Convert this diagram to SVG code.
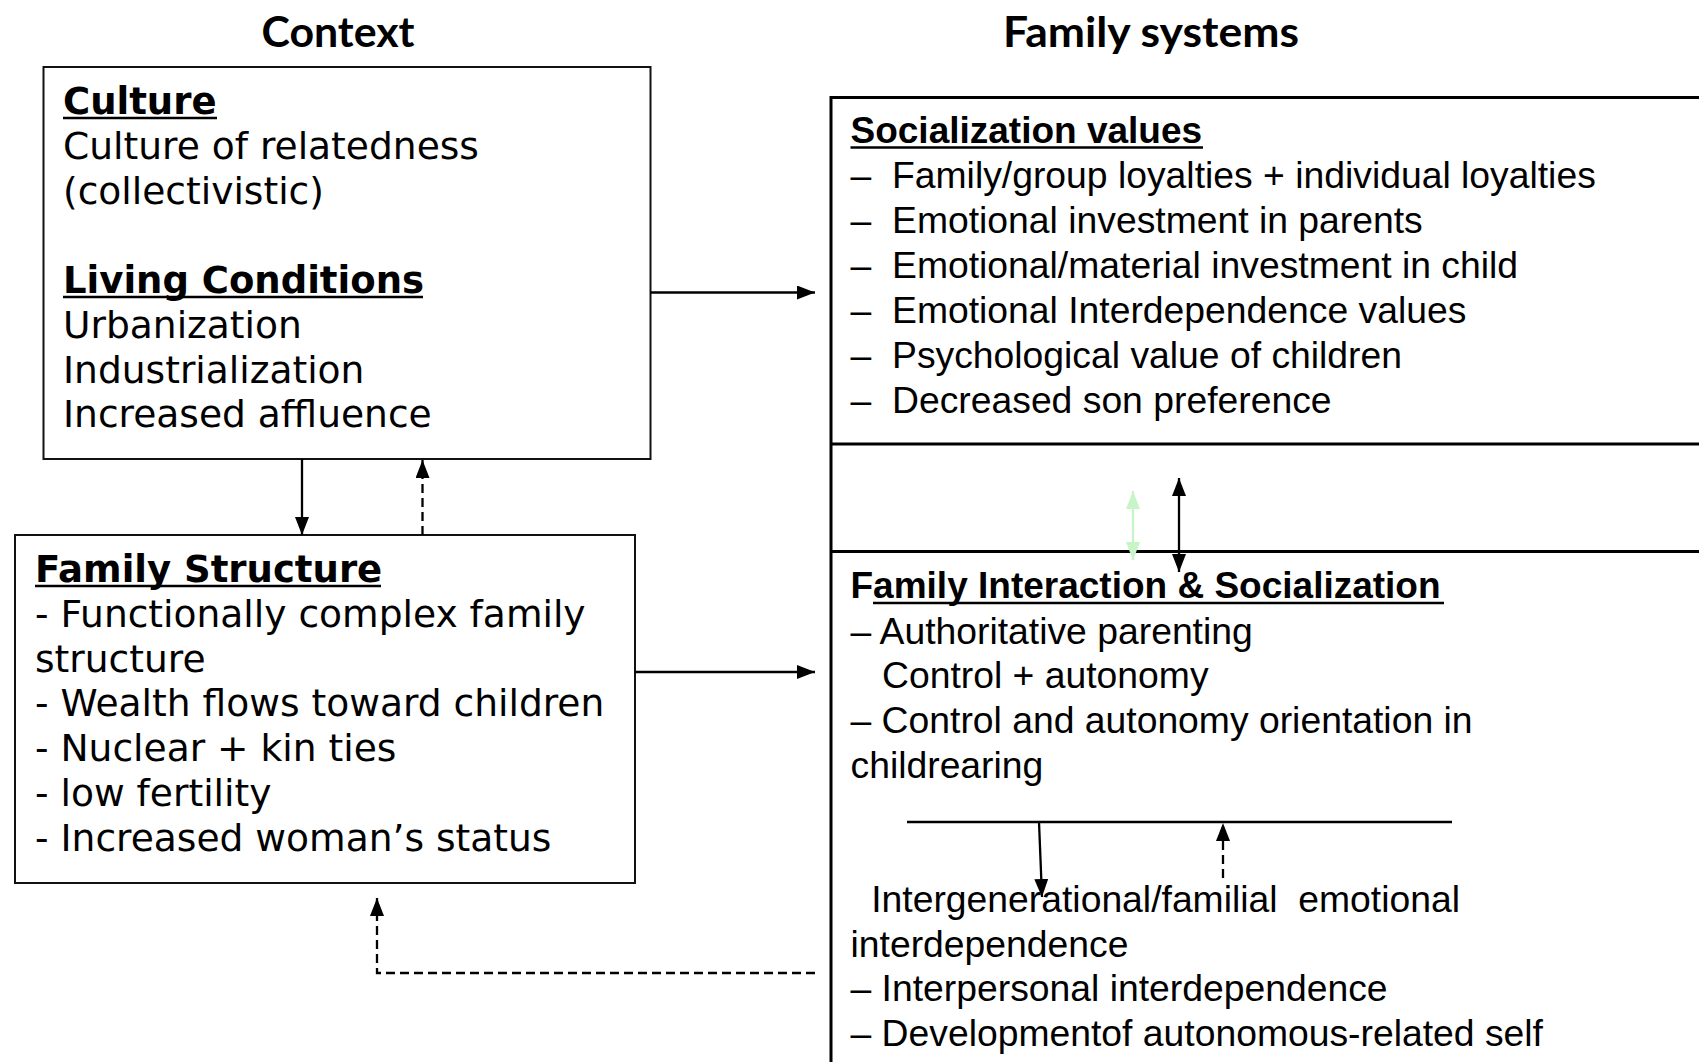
<svg xmlns="http://www.w3.org/2000/svg" width="1699" height="1062" viewBox="0 0 1699 1062">
  <style>
    .title { font-family: Lato, "Open Sans", sans-serif; font-weight: bold; font-size: 42px; fill: #000; }
    .ctx { font-family: "DejaVu Sans", Verdana, sans-serif; font-size: 37.6px; fill: #000; }
    .ctxh { font-family: "DejaVu Sans", Verdana, sans-serif; font-size: 37px; font-weight: bold; fill: #000; }
    .fam { font-family: "Liberation Sans", Arial, sans-serif; font-size: 37.3px; fill: #000; white-space: pre; }
    .famh { font-family: "Liberation Sans", Arial, sans-serif; font-size: 37px; font-weight: bold; fill: #000; }
    .box { fill: #fff; stroke: #111; stroke-width: 2; }
    .frame { fill: none; stroke: #000; stroke-width: 3; }
    .ul { stroke: #000; stroke-width: 2.5; }
    .conn { fill: none; stroke: #000; stroke-width: 2.3; }
    .dash { stroke-dasharray: 9 5; }
    .pale { stroke: #c8f5c8; }
  </style>
  <defs>
    <marker id="head" viewBox="0 0 18 14" refX="18" refY="7" markerWidth="18" markerHeight="14" markerUnits="userSpaceOnUse" orient="auto-start-reverse">
      <path d="M0,0 L18,7 L0,14 z" fill="#000"/>
    </marker>
    <marker id="headPale" viewBox="0 0 18 14" refX="18" refY="7" markerWidth="18" markerHeight="14" markerUnits="userSpaceOnUse" orient="auto-start-reverse">
      <path d="M0,0 L18,7 L0,14 z" fill="#c8f5c8"/>
    </marker>
  </defs>

  <!-- column headings -->
  <text class="title" x="338" y="47" text-anchor="middle" textLength="153" lengthAdjust="spacingAndGlyphs">Context</text>
  <text class="title" x="1151" y="47" text-anchor="middle" textLength="296" lengthAdjust="spacingAndGlyphs">Family systems</text>

  <!-- culture and living conditions -->
  <g id="culture">
    <rect class="box" x="43.5" y="67" width="607" height="392"/>
    <text class="ctxh" x="63" y="114">Culture</text>
    <line class="ul" x1="63" y1="118" x2="217" y2="118"/>
    <text class="ctx" x="63" y="158.8">Culture of relatedness</text>
    <text class="ctx" x="63" y="203.6">(collectivistic)</text>
    <text class="ctxh" x="63" y="293.2">Living Conditions</text>
    <line class="ul" x1="63" y1="297" x2="423" y2="297"/>
    <text class="ctx" x="63" y="338">Urbanization</text>
    <text class="ctx" x="63" y="382.8">Industrialization</text>
    <text class="ctx" x="63" y="427">Increased affluence</text>
  </g>

  <!-- family structure -->
  <g id="family-structure">
    <rect class="box" x="15" y="535" width="620" height="348"/>
    <text class="ctxh" x="35" y="582">Family Structure</text>
    <line class="ul" x1="35" y1="586" x2="381" y2="586"/>
    <text class="ctx" x="35" y="626.8">- Functionally complex family</text>
    <text class="ctx" x="35" y="671.6">structure</text>
    <text class="ctx" x="35" y="716.4">- Wealth flows toward children</text>
    <text class="ctx" x="35" y="761.2">- Nuclear + kin ties</text>
    <text class="ctx" x="35" y="806">- low fertility</text>
    <text class="ctx" x="35" y="850.8">- Increased woman’s status</text>
  </g>

  <!-- family systems frame -->
  <g id="family-systems">
    <path class="frame" d="M1702,97.5 H831 V1065"/>
    <line class="frame" x1="831" y1="444" x2="1702" y2="444"/>
    <line class="frame" x1="831" y1="551.5" x2="1702" y2="551.5"/>
  </g>

  <g id="socialization-values">
    <text class="famh" x="850.5" y="142.5">Socialization values</text>
    <line class="ul" x1="850.5" y1="147.5" x2="1203" y2="147.5"/>
    <text class="fam" x="850.5" y="188">–</text>
    <text class="fam" x="892" y="188">Family/group loyalties + individual loyalties</text>
    <text class="fam" x="850.5" y="233">–</text>
    <text class="fam" x="892" y="233">Emotional investment in parents</text>
    <text class="fam" x="850.5" y="278">–</text>
    <text class="fam" x="892" y="278">Emotional/material investment in child</text>
    <text class="fam" x="850.5" y="323">–</text>
    <text class="fam" x="892" y="323">Emotional Interdependence values</text>
    <text class="fam" x="850.5" y="368">–</text>
    <text class="fam" x="892" y="368">Psychological value of children</text>
    <text class="fam" x="850.5" y="413">–</text>
    <text class="fam" x="892" y="413">Decreased son preference</text>
  </g>

  <g id="family-interaction">
    <text class="famh" x="850.5" y="598">Family Interaction &amp; Socialization</text>
    <line class="ul" x1="873" y1="603" x2="1444" y2="603"/>
    <text class="fam" x="850.5" y="643.5">– Authoritative parenting</text>
    <text class="fam" x="882" y="688">Control + autonomy</text>
    <text class="fam" x="850.5" y="733">– Control and autonomy orientation in</text>
    <text class="fam" x="850.5" y="777.5">childrearing</text>
    <line class="conn" x1="907" y1="822" x2="1452" y2="822"/>
  </g>

  <g id="interdependence">
    <text class="fam" x="850.5" y="912">  Intergenerational/familial  emotional</text>
    <text class="fam" x="850.5" y="957">interdependence</text>
    <text class="fam" x="850.5" y="1001">– Interpersonal interdependence</text>
    <text class="fam" x="850.5" y="1046">– Developmentof autonomous-related self</text>
  </g>

  <!-- connectors -->
  <g id="connectors">
    <line class="conn" x1="650" y1="292.5" x2="815" y2="292.5" marker-end="url(#head)"/>
    <line class="conn" x1="635" y1="672" x2="815" y2="672" marker-end="url(#head)"/>
    <line class="conn" x1="302" y1="459" x2="302" y2="535" marker-end="url(#head)"/>
    <line class="conn dash" x1="422.5" y1="535" x2="422.5" y2="460" marker-end="url(#head)"/>
    <path class="conn dash" d="M815,973 H377 V898" marker-end="url(#head)"/>
    <line class="conn" x1="1179" y1="478" x2="1179" y2="572" marker-start="url(#head)" marker-end="url(#head)"/>
    <line class="conn pale" x1="1133" y1="491" x2="1133" y2="560" marker-start="url(#headPale)" marker-end="url(#headPale)"/>
    <line class="conn" x1="1039" y1="822" x2="1042" y2="897" marker-end="url(#head)"/>
    <line class="conn dash" x1="1223" y1="878" x2="1223" y2="823" marker-end="url(#head)"/>
  </g>
</svg>
